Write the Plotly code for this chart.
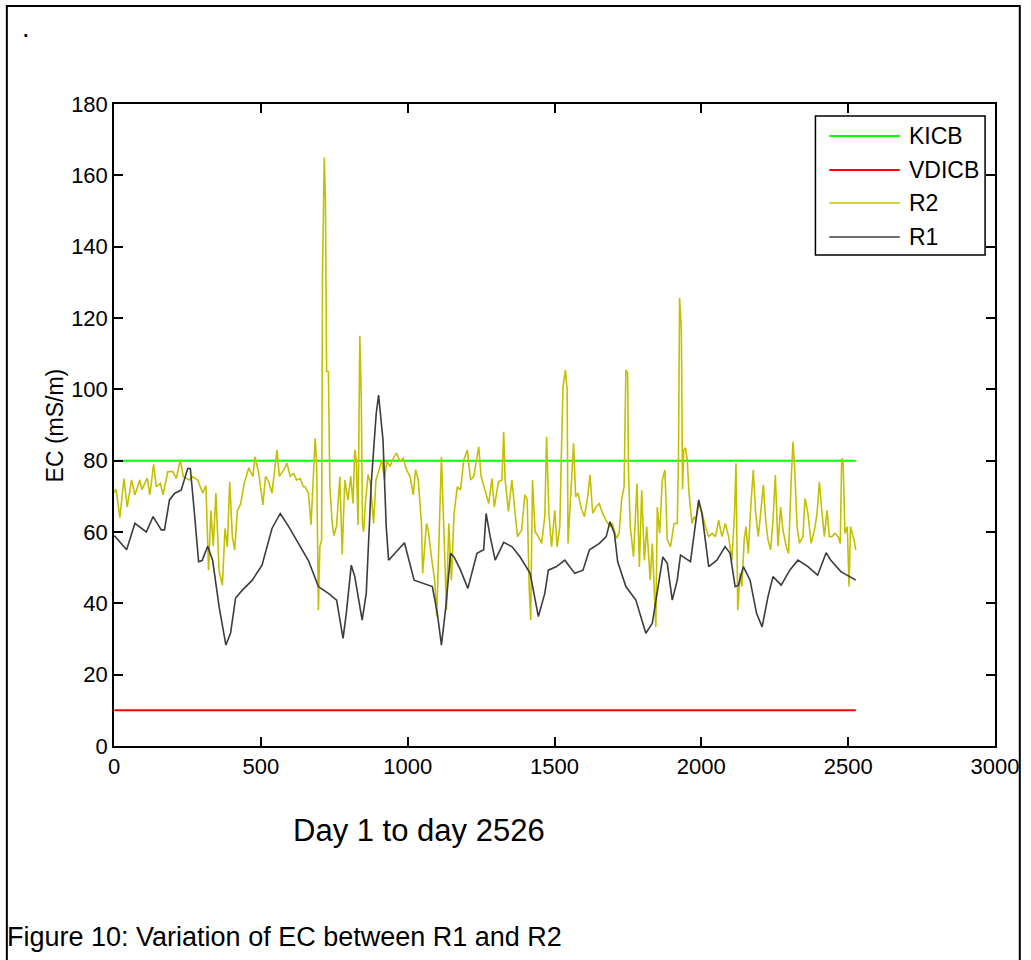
import plotly.graph_objects as go

# ---- data ----
kicb_days = [1, 2526]
kicb_ec = [80, 80]
vdicb_days = [1, 2526]
vdicb_ec = [10, 10]

r2_days = [1, 7, 20, 34, 45, 60, 71, 88, 95, 113, 122, 135, 144, 158, 167, 183, 200, 212, 226, 236,
           257, 268, 285, 302, 313, 322, 330, 338, 347, 358, 369, 378, 386, 394, 403, 411, 420, 431, 443, 459,
           473, 480, 493, 507, 516, 527, 538, 555, 563, 578, 589, 600, 611, 622, 634, 645, 651, 662, 671, 679,
           685, 690, 696, 701, 707, 710, 716, 720, 724, 730, 735, 743, 749, 758, 769, 777, 786, 791, 797, 806,
           814, 820, 825, 831, 837, 842, 846, 850, 856, 865, 873, 884, 892, 901, 912, 921, 929, 940, 951, 962,
           974, 985, 996, 1008, 1019, 1027, 1036, 1047, 1051, 1064, 1070, 1081, 1092, 1099, 1107, 1115, 1124, 1132, 1140, 1149,
           1158, 1169, 1180, 1191, 1203, 1214, 1225, 1242, 1250, 1264, 1276, 1287, 1295, 1309, 1321, 1327, 1332, 1343, 1355, 1366,
           1374, 1388, 1399, 1407, 1414, 1419, 1425, 1434, 1445, 1456, 1467, 1473, 1481, 1490, 1501, 1509, 1518, 1523, 1529, 1537,
           1543, 1546, 1557, 1565, 1572, 1580, 1591, 1602, 1613, 1621, 1630, 1641, 1652, 1664, 1675, 1689, 1697, 1711, 1720, 1729,
           1737, 1743, 1749, 1752, 1758, 1769, 1781, 1789, 1797, 1806, 1814, 1826, 1833, 1845, 1850, 1858, 1867, 1876, 1884, 1895,
           1907, 1918, 1922, 1926, 1932, 1936, 1940, 1946, 1952, 1958, 1968, 1975, 1981, 1992, 2003, 2014, 2025, 2037, 2048, 2059,
           2070, 2082, 2093, 2104, 2113, 2118, 2124, 2132, 2138, 2146, 2152, 2160, 2169, 2177, 2185, 2194, 2203, 2211, 2219, 2227,
           2236, 2244, 2252, 2261, 2270, 2278, 2289, 2297, 2306, 2312, 2317, 2326, 2334, 2346, 2353, 2363, 2374, 2385, 2394, 2402,
           2410, 2419, 2428, 2436, 2444, 2455, 2466, 2473, 2478, 2483, 2489, 2497, 2503, 2508, 2514, 2520, 2526]
r2_ec = [71, 72, 64, 75, 67, 74.6, 70.4, 74.6, 71.8, 75.1, 70.4, 79, 72.7, 73.6, 70.4, 76.9, 77, 75, 80.2, 75.5,
         74.6, 75.5, 74.6, 70.9, 73, 49.3, 66, 56, 70.9, 49, 45.1, 61, 55.8, 74.1, 58.7, 55, 66, 67.8, 73.5, 78,
         75.6, 81.1, 76.4, 67.6, 75.6, 74.1, 70.9, 83, 75.6, 77.4, 79.3, 75.6, 76.4, 74.6, 75, 72.7, 72.7, 70.9, 62, 74.6,
         86.3, 79.3, 38.1, 56, 57.8, 133, 165, 153, 105, 105, 72.7, 62.5, 59, 61.8, 75.5, 53.7, 74.6, 71.8, 69, 75.6,
         68, 83, 80.2, 62, 115, 98, 62.4, 60, 68, 76.1, 73.8, 62.4, 74.6, 77, 80.2, 74.6, 79.8, 78.4, 80.7, 82.1,
         79.8, 80.7, 77.5, 75.6, 70.4, 77.5, 74.6, 62.4, 48.4, 62.4, 60.6, 53, 46.5, 36.3, 57.8, 81.1, 58.7, 38.1, 62.4, 46.5,
         65.2, 72.7, 71.8, 80.2, 83, 74.6, 75.6, 83.9, 75.6, 71.8, 68, 75, 67, 74, 74.6, 88.1, 74.6, 65.8, 74.6, 65.2,
         58.7, 60.5, 70.4, 69, 43.7, 35.3, 74.6, 60.1, 58.7, 56.8, 64.3, 86.7, 65.2, 55.8, 66.1, 55.8, 61.5, 80.2, 100.7, 105.4,
         99.8, 56.8, 71.3, 84.9, 69.9, 70.9, 66.7, 64.3, 69.9, 76, 65.2, 67, 68, 65.2, 63.3, 61.5, 62.4, 58.2, 59.6, 69.4,
         72.7, 105.4, 104.6, 76.5, 61.5, 53, 73.6, 50.2, 71.8, 52, 61.5, 46.5, 56.8, 33.4, 67, 59.6, 74.6, 77.4, 57.8, 55.8,
         62.4, 62.4, 80.2, 125.6, 116.6, 72, 83, 83.6, 80.2, 70.9, 62.4, 64.3, 63.3, 68, 65.2, 61.5, 58.7, 59.6, 58.7, 63.3,
         58.7, 62.4, 58.7, 52, 65.2, 79.3, 38.1, 48.4, 44.7, 57.8, 61.5, 54, 68, 77.4, 65.2, 58.7, 66.1, 73.2, 63.3, 57.8,
         55, 63.3, 76, 56, 67, 60.5, 56, 54, 74.6, 85.3, 79.3, 61.5, 56.8, 58.7, 69.4, 65.2, 56.8, 60.5, 65.2, 74.1,
         66.1, 58.7, 66.1, 58.7, 58.7, 59.6, 58.7, 56.8, 80.7, 79.3, 59.6, 61.5, 44.7, 61.5, 59.6, 57.8, 55]

r1_days = [1, 43, 71, 110, 133, 161, 172, 189, 206, 229, 251, 260, 274, 288, 300, 319, 336, 358, 381, 397,
           414, 437, 471, 504, 538, 566, 595, 628, 645, 662, 696, 730, 758, 780, 791, 808, 820, 845, 859, 876,
           893, 901, 916, 927, 935, 989, 1022, 1084, 1101, 1115, 1130, 1146, 1158, 1180, 1205, 1236, 1259, 1267, 1281, 1298,
           1327, 1355, 1383, 1417, 1445, 1467, 1479, 1507, 1535, 1569, 1597, 1619, 1653, 1676, 1689, 1704, 1715, 1743, 1777, 1800,
           1811, 1833, 1850, 1869, 1884, 1901, 1918, 1929, 1963, 1991, 2002, 2025, 2053, 2081, 2098, 2115, 2126, 2143, 2166, 2188,
           2207, 2227, 2244, 2272, 2301, 2329, 2363, 2396, 2425, 2441, 2475, 2498, 2526]
r1_ec = [59, 55, 62.4, 60, 64.3, 60.6, 60.6, 69, 70.8, 71.8, 77.8, 77.8, 65.2, 51.7, 52, 56, 52, 39, 28.3, 31.7,
         41.5, 43.7, 46.5, 50.7, 61, 65.2, 61.5, 57, 54.5, 52, 44.7, 42.8, 40.9, 30.2, 37.2, 50.7, 47.5, 35.3, 42.8, 73.6,
         93.3, 98.4, 85.8, 61.5, 52.1, 57, 46.5, 44.7, 37.2, 28.3, 39, 54, 53, 49.3, 44.2, 54, 55, 65.2, 58.7, 52.1,
         57.1, 55.9, 53, 48.4, 36.3, 42.8, 49.3, 50.3, 52.1, 48.4, 49.3, 55, 56.8, 58.7, 62.9, 59.6, 51.7, 44.7, 40.9, 34.4,
         31.6, 34.4, 42.8, 53, 51.2, 40.9, 46.5, 53.5, 51.7, 69, 65.2, 50.3, 52.1, 55.9, 54, 44.7, 45, 50.3, 46.5, 37.2,
         33.4, 41.9, 47.5, 45.1, 49.3, 52.1, 50.3, 47.9, 54.2, 52.1, 48.9, 47.9, 46.5]

x_ticks = [0, 500, 1000, 1500, 2000, 2500, 3000]
y_ticks = [0, 20, 40, 60, 80, 100, 120, 140, 160, 180]
legend_names = ["KICB", "VDICB", "R2", "R1"]
colors = {"KICB": "#00ff00", "VDICB": "#ff0000", "R2": "#c4c000", "R1": "#3c3c3c"}

FONT = "Liberation Sans, Arial, sans-serif"

fig = go.Figure()
fig.add_trace(go.Scatter(x=kicb_days, y=kicb_ec, mode="lines", name="KICB",
                         line=dict(color=colors["KICB"], width=2), showlegend=False))
fig.add_trace(go.Scatter(x=vdicb_days, y=vdicb_ec, mode="lines", name="VDICB",
                         line=dict(color=colors["VDICB"], width=2), showlegend=False))
fig.add_trace(go.Scatter(x=r2_days, y=r2_ec, mode="lines", name="R2",
                         line=dict(color=colors["R2"], width=1.6), showlegend=False))
fig.add_trace(go.Scatter(x=r1_days, y=r1_ec, mode="lines", name="R1",
                         line=dict(color=colors["R1"], width=1.6), showlegend=False))

W, H = 1031, 960
L, R, T, B = 114, 1002, 104, 746


def px(x):
    return (x - L) / (R - L)


def py(y):
    return (B - y) / (B - T)


shapes = []
annotations = []
# outer frame
shapes.append(dict(type="rect", xref="paper", yref="paper", x0=px(6), x1=px(1027), y0=py(975), y1=py(6),
                   line=dict(color="black", width=2), fillcolor="rgba(0,0,0,0)", layer="below"))
# legend box
shapes.append(dict(type="rect", xref="paper", yref="paper", x0=px(821), x1=px(992), y0=py(255), y1=py(116),
                   line=dict(color="black", width=1.5), fillcolor="white", layer="above"))
leg_y = [136, 170, 203, 237]
for name, yy in zip(legend_names, leg_y):
    shapes.append(dict(type="line", xref="paper", yref="paper", x0=px(835), x1=px(906), y0=py(yy), y1=py(yy),
                       line=dict(color=colors[name], width=1.6 if name in ("R1", "R2") else 2), layer="above"))
    annotations.append(dict(xref="paper", yref="paper", x=px(913), y=py(yy), text=name, showarrow=False,
                            xanchor="left", yanchor="middle", font=dict(family=FONT, size=23, color="black")))

annotations.append(dict(xref="paper", yref="paper", x=px(55), y=py(425), text="EC (mS/m)", textangle=-90,
                        showarrow=False, xanchor="center", yanchor="middle",
                        font=dict(family=FONT, size=23, color="black")))
annotations.append(dict(xref="paper", yref="paper", x=px(421), y=py(830), text="Day 1 to day 2526",
                        showarrow=False, xanchor="center", yanchor="middle",
                        font=dict(family=FONT, size=31, color="black")))
annotations.append(dict(xref="paper", yref="paper", x=px(4), y=py(937),
                        text="Figure 10: Variation of EC between R1 and R2",
                        showarrow=False, xanchor="left", yanchor="middle",
                        font=dict(family=FONT, size=27, color="black")))
annotations.append(dict(xref="paper", yref="paper", x=px(25), y=py(28), text=".",
                        showarrow=False, xanchor="center", yanchor="middle",
                        font=dict(family=FONT, size=27, color="black")))

axis_common = dict(showline=True, linecolor="black", linewidth=1.5, mirror="allticks", ticks="inside",
                   ticklen=9, tickwidth=1.5, tickcolor="black", showgrid=False, zeroline=False,
                   tickfont=dict(family=FONT, size=22, color="black"))

fig.update_layout(
    width=W, height=H,
    margin=dict(l=L, r=W - R, t=T, b=H - B, pad=0),
    paper_bgcolor="white", plot_bgcolor="white",
    xaxis=dict(range=[0, 3000], tickvals=x_ticks, ticktext=[str(v) for v in x_ticks], **axis_common),
    yaxis=dict(range=[0, 180], tickvals=y_ticks, ticktext=[str(v) for v in y_ticks], **axis_common),
    shapes=shapes, annotations=annotations,
    showlegend=False,
)

fig.write_html("out.html")
